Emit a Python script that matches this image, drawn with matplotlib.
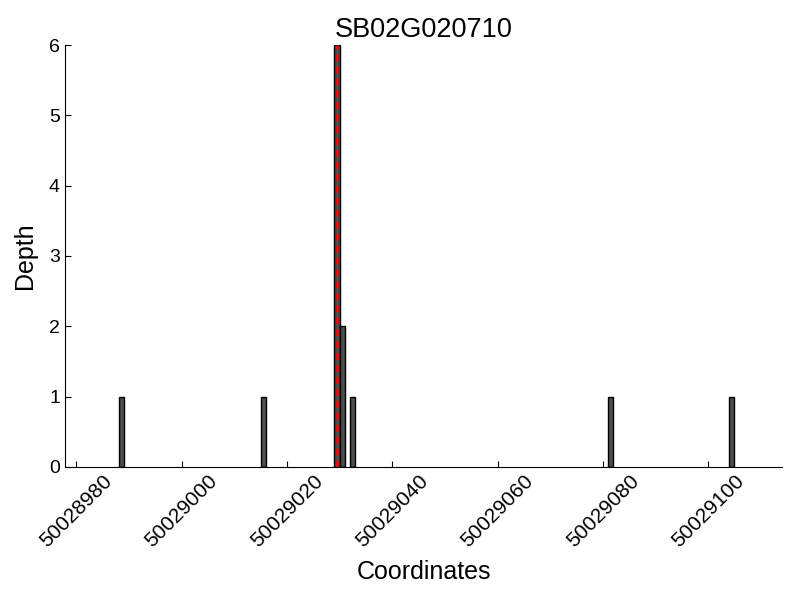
import matplotlib
matplotlib.use("Agg")
import matplotlib.pyplot as plt

# read-depth per coordinate
positions = [50028988, 50029015, 50029029, 50029030, 50029032, 50029081, 50029104]
depths = [1, 1, 6, 2, 1, 1, 1]
marker_pos = 50029029.5
title = "SB02G020710"
xticks = [50028980, 50029000, 50029020, 50029040, 50029060, 50029080, 50029100]

plt.rcParams["font.family"] = ["Liberation Sans", "DejaVu Sans"]

fig = plt.figure(figsize=(8, 6), dpi=100)
ax = fig.add_axes([0.081, 0.222, 0.897, 0.703])

ax.bar(positions, depths, width=1, align="edge", color="#4d4d4d",
       edgecolor="black", linewidth=1)
ax.vlines(marker_pos, 0, max(depths), colors="red", linestyles=(0, (2.5, 1.8)),
          linewidth=2)

ax.set_xlim(50028977.8, 50029114.1)
ax.set_ylim(0, 6)
ax.set_xticks(xticks)
ax.set_xticklabels([str(t) for t in xticks], rotation=45)
ax.set_yticks(range(0, 7))
ax.tick_params(direction="in", length=4)
ax.tick_params(axis="x", labelsize=15)
ax.tick_params(axis="y", labelsize=14)
ax.spines["top"].set_visible(False)
ax.spines["right"].set_visible(False)

ax.set_xlabel("Coordinates", fontsize=18, labelpad=6)
ax.set_ylabel("Depth", fontsize=18, labelpad=8.5)
ax.set_title(title, fontsize=19.5)

fig.savefig("out.png", dpi=100)
